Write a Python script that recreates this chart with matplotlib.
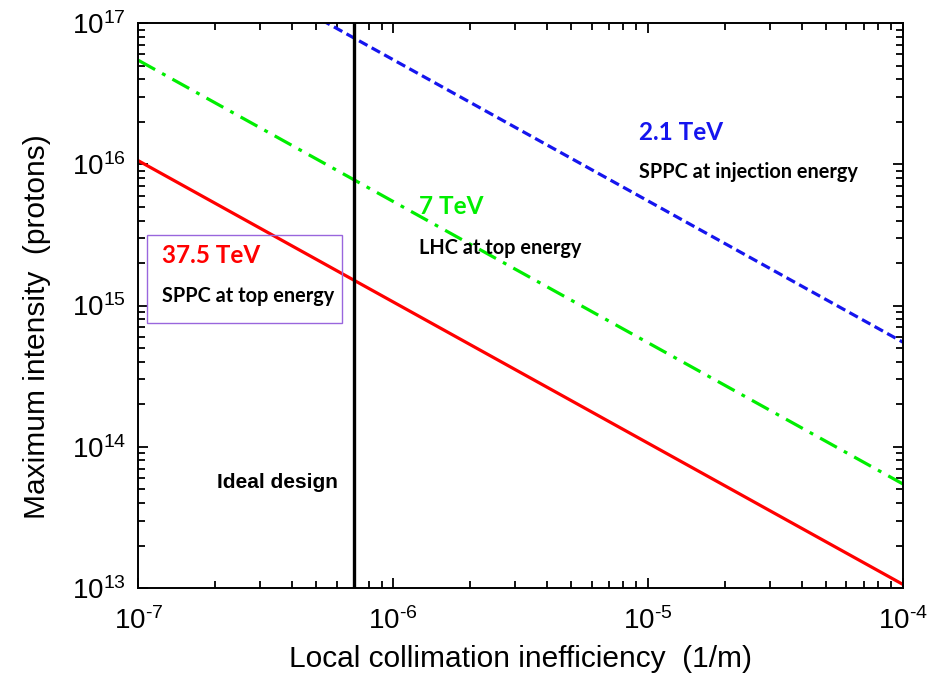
import numpy as np
import matplotlib
matplotlib.use("Agg")
import matplotlib.pyplot as plt
from matplotlib.ticker import LogLocator, NullFormatter, FuncFormatter
from matplotlib.patches import Rectangle

# Beam-loss limited intensity: I_max = C / eta  (eta = local collimation inefficiency)
energies = ["37.5 TeV", "7 TeV", "2.1 TeV"]
descriptions = ["SPPC at top energy", "LHC at top energy", "SPPC at injection energy"]
coefficients = [1.06e9, 5.45e9, 5.5e10]   # protons * (1/m)
colors = ["#ff0000", "#00ee00", "#1515ee"]
styles = ["-", "-.", "--"]
ideal_design_eta = 7e-7

x_range = [1e-7, 1e-4]
y_range = [1e13, 1e17]

plt.rcParams["font.family"] = ["Liberation Sans", "DejaVu Sans"]
plt.rcParams["mathtext.fontset"] = "custom"
plt.rcParams["mathtext.rm"] = "Liberation Sans"
plt.rcParams["mathtext.default"] = "regular"

fig = plt.figure(figsize=(9.41, 6.78), dpi=100)
fig.subplots_adjust(left=0.147, right=0.9596, top=0.966, bottom=0.1327)
ax = fig.add_subplot(111)

eta = np.logspace(np.log10(x_range[0]), np.log10(x_range[1]), 400)
dash_map = {"-": (None, None), "--": (3, 1.5), "-.": (6, 2.5, 1.2, 2.5)}
for c, col, ls in zip(coefficients, colors, styles):
    ax.plot(eta, c / eta, color=col, linestyle=ls, linewidth=2.3, dashes=dash_map[ls])

ax.axvline(ideal_design_eta, color="black", linewidth=2.4)

ax.set_xscale("log")
ax.set_yscale("log")
ax.set_xlim(*x_range)
ax.set_ylim(*y_range)


def decade_label(v, pos):
    exp = int(round(np.log10(v)))
    if exp < 0:
        return r"$10^{\text{-}%d}$" % (-exp)
    return r"$10^{%d}$" % exp


ax.xaxis.set_major_locator(LogLocator(base=10, numticks=10))
ax.yaxis.set_major_locator(LogLocator(base=10, numticks=10))
ax.xaxis.set_major_formatter(FuncFormatter(decade_label))
ax.yaxis.set_major_formatter(FuncFormatter(decade_label))
ax.xaxis.set_minor_locator(LogLocator(base=10, subs=np.arange(2, 10), numticks=20))
ax.yaxis.set_minor_locator(LogLocator(base=10, subs=np.arange(2, 10), numticks=20))
ax.xaxis.set_minor_formatter(NullFormatter())
ax.yaxis.set_minor_formatter(NullFormatter())

ax.tick_params(which="both", direction="in", top=True, right=True, width=1.3)
ax.tick_params(which="major", length=7, labelsize=20)
ax.tick_params(which="minor", length=5)
ax.tick_params(axis="x", which="major", pad=14)
ax.tick_params(axis="y", which="major", pad=9)
for s in ax.spines.values():
    s.set_linewidth(1.4)

ax.set_xlabel("Local collimation inefficiency  (1/m)", fontsize=21.5, labelpad=7)
ax.set_ylabel("Maximum intensity  (protons)", fontsize=21.5)
ax.yaxis.set_label_coords(-0.1145, 0.462)

label_font = ["Lato", "DejaVu Sans"]
ax.add_patch(Rectangle((0.011, 0.469), 0.255, 0.156, transform=ax.transAxes,
                       fill=False, edgecolor="#9966dd", linewidth=1.0, zorder=3))

energy_pos = [(0.031, 0.589), (0.367, 0.676), (0.655, 0.807)]
desc_pos = [(0.031, 0.517), (0.367, 0.602), (0.655, 0.736)]
for e, d, col, ep, dp in zip(energies, descriptions, colors, energy_pos, desc_pos):
    ax.text(ep[0], ep[1], e, transform=ax.transAxes, color=col, fontsize=17.5,
            fontweight="bold", family=label_font, va="center", ha="left")
    ax.text(dp[0], dp[1], d, transform=ax.transAxes, color="black", fontsize=14.3,
            fontweight="bold", family=label_font, va="center", ha="left")

ax.text(0.103, 0.186, "Ideal design", transform=ax.transAxes, fontsize=15,
        fontweight="bold", va="center", ha="left")

fig.savefig("out.png", dpi=100)
